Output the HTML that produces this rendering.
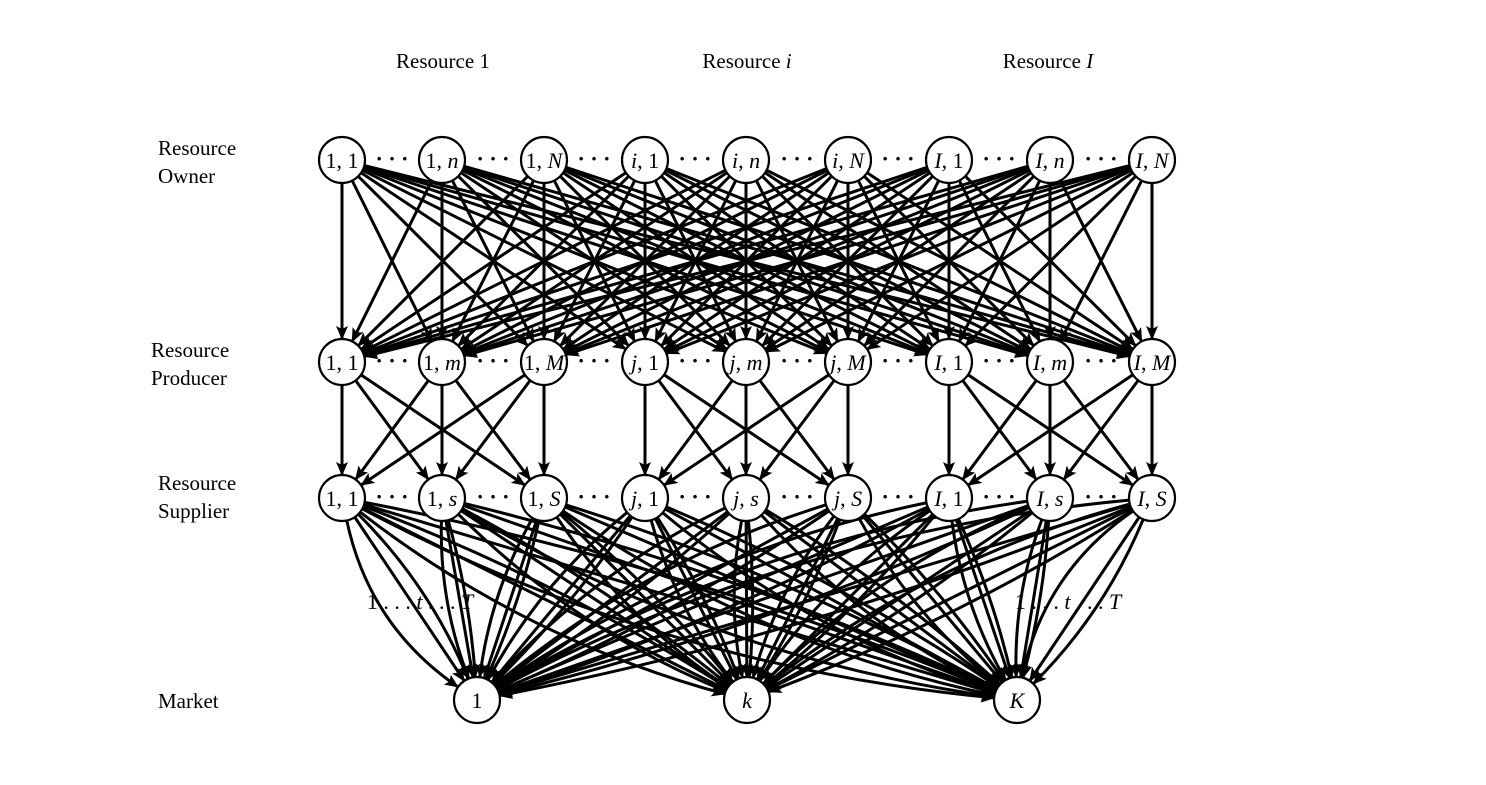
<!DOCTYPE html>
<html><head><meta charset="utf-8"><style>
html,body{margin:0;padding:0;background:#fff;}
body{width:1486px;height:785px;overflow:hidden;position:relative;}
svg{position:absolute;left:0;top:0;}
text{font-family:"Liberation Serif",serif;fill:#000;}
</style></head><body>
<svg id="s" width="1486" height="785" viewBox="0 0 1486 785" xmlns="http://www.w3.org/2000/svg">
<defs>
<marker id="a" viewBox="0 0 14 12" refX="13" refY="6" markerWidth="14" markerHeight="12" markerUnits="userSpaceOnUse" orient="auto">
<path d="M0,0 L14,6 L0,12 L3,6 Z" fill="#000"/>
</marker>
</defs>
<g id="edges" stroke="#000" stroke-width="3" fill="none"></g>
<g id="nodes" fill="#fff" stroke="#000" stroke-width="2.2">
<circle cx="342" cy="160" r="23"/><circle cx="442" cy="160" r="23"/><circle cx="544" cy="160" r="23"/>
<circle cx="645" cy="160" r="23"/><circle cx="746" cy="160" r="23"/><circle cx="848" cy="160" r="23"/>
<circle cx="949" cy="160" r="23"/><circle cx="1050" cy="160" r="23"/><circle cx="1152" cy="160" r="23"/>
<circle cx="342" cy="362" r="23"/><circle cx="442" cy="362" r="23"/><circle cx="544" cy="362" r="23"/>
<circle cx="645" cy="362" r="23"/><circle cx="746" cy="362" r="23"/><circle cx="848" cy="362" r="23"/>
<circle cx="949" cy="362" r="23"/><circle cx="1050" cy="362" r="23"/><circle cx="1152" cy="362" r="23"/>
<circle cx="342" cy="498" r="23"/><circle cx="442" cy="498" r="23"/><circle cx="544" cy="498" r="23"/>
<circle cx="645" cy="498" r="23"/><circle cx="746" cy="498" r="23"/><circle cx="848" cy="498" r="23"/>
<circle cx="949" cy="498" r="23"/><circle cx="1050" cy="498" r="23"/><circle cx="1152" cy="498" r="23"/>
<circle cx="477" cy="700" r="23"/><circle cx="747" cy="700" r="23"/><circle cx="1017" cy="700" r="23"/>
</g>
<g font-size="21" text-anchor="middle">
<text x="443" y="68">Resource 1</text>
<text x="747" y="68">Resource <tspan font-style="italic">i</tspan></text>
<text x="1048" y="68">Resource <tspan font-style="italic">I</tspan></text>
</g>
<g font-size="21">
<text x="158" y="155">Resource</text><text x="158" y="183">Owner</text>
<text x="151" y="357">Resource</text><text x="151" y="385">Producer</text>
<text x="158" y="490">Resource</text><text x="158" y="518">Supplier</text>
<text x="158" y="708">Market</text>
</g>
<g font-size="22" text-anchor="middle">
<text x="342" y="168">1, 1</text><text x="442" y="168">1, <tspan font-style="italic">n</tspan></text><text x="544" y="168">1, <tspan font-style="italic">N</tspan></text>
<text x="645" y="168"><tspan font-style="italic">i</tspan>, 1</text><text x="746" y="168"><tspan font-style="italic">i</tspan>, <tspan font-style="italic">n</tspan></text><text x="848" y="168"><tspan font-style="italic">i</tspan>, <tspan font-style="italic">N</tspan></text>
<text x="949" y="168"><tspan font-style="italic">I</tspan>, 1</text><text x="1050" y="168"><tspan font-style="italic">I</tspan>, <tspan font-style="italic">n</tspan></text><text x="1152" y="168"><tspan font-style="italic">I</tspan>, <tspan font-style="italic">N</tspan></text>
<text x="342" y="370">1, 1</text><text x="442" y="370">1, <tspan font-style="italic">m</tspan></text><text x="544" y="370">1, <tspan font-style="italic">M</tspan></text>
<text x="645" y="370"><tspan font-style="italic">j</tspan>, 1</text><text x="746" y="370"><tspan font-style="italic">j</tspan>, <tspan font-style="italic">m</tspan></text><text x="848" y="370"><tspan font-style="italic">j</tspan>, <tspan font-style="italic">M</tspan></text>
<text x="949" y="370"><tspan font-style="italic">I</tspan>, 1</text><text x="1050" y="370"><tspan font-style="italic">I</tspan>, <tspan font-style="italic">m</tspan></text><text x="1152" y="370"><tspan font-style="italic">I</tspan>, <tspan font-style="italic">M</tspan></text>
<text x="342" y="506">1, 1</text><text x="442" y="506">1, <tspan font-style="italic">s</tspan></text><text x="544" y="506">1, <tspan font-style="italic">S</tspan></text>
<text x="645" y="506"><tspan font-style="italic">j</tspan>, 1</text><text x="746" y="506"><tspan font-style="italic">j</tspan>, <tspan font-style="italic">s</tspan></text><text x="848" y="506"><tspan font-style="italic">j</tspan>, <tspan font-style="italic">S</tspan></text>
<text x="949" y="506"><tspan font-style="italic">I</tspan>, 1</text><text x="1050" y="506"><tspan font-style="italic">I</tspan>, <tspan font-style="italic">s</tspan></text><text x="1152" y="506"><tspan font-style="italic">I</tspan>, <tspan font-style="italic">S</tspan></text>
<text x="477" y="708">1</text><text x="747" y="708" font-style="italic">k</text><text x="1017" y="708" font-style="italic">K</text>
</g>
<g font-size="22" text-anchor="middle" font-weight="bold">
<text x="392" y="166">· · ·</text><text x="493" y="166">· · ·</text><text x="594" y="166">· · ·</text><text x="695" y="166">· · ·</text><text x="797" y="166">· · ·</text><text x="898" y="166">· · ·</text><text x="999" y="166">· · ·</text><text x="1101" y="166">· · ·</text>
<text x="392" y="368">· · ·</text><text x="493" y="368">· · ·</text><text x="594" y="368">· · ·</text><text x="695" y="368">· · ·</text><text x="797" y="368">· · ·</text><text x="898" y="368">· · ·</text><text x="999" y="368">· · ·</text><text x="1101" y="368">· · ·</text>
<text x="392" y="504">· · ·</text><text x="493" y="504">· · ·</text><text x="594" y="504">· · ·</text><text x="695" y="504">· · ·</text><text x="797" y="504">· · ·</text><text x="898" y="504">· · ·</text><text x="999" y="504">· · ·</text><text x="1101" y="504">· · ·</text>
</g>
<g font-size="22" text-anchor="middle">
<text x="420" y="609">1 . . . <tspan font-style="italic">t</tspan> . . . <tspan font-style="italic">T</tspan></text>
<text x="1068" y="609">1 . . . <tspan font-style="italic">t</tspan> . . . <tspan font-style="italic">T</tspan></text>
</g>
</svg>
<script>
(function(){
var X=[342,442,544,645,746,848,949,1050,1152],M=[477,747,1017],R=23;
var g=document.getElementById('edges'),d='';
function line(x1,y1,x2,y2){var dx=x2-x1,dy=y2-y1,L=Math.hypot(dx,dy),ux=dx/L,uy=dy/L;
 d+='<line x1="'+(x1+ux*R)+'" y1="'+(y1+uy*R)+'" x2="'+(x2-ux*R)+'" y2="'+(y2-uy*R)+'" marker-end="url(#a)"/>';}
function curve(x1,y1,x2,y2,k){var dx=x2-x1,dy=y2-y1,L=Math.hypot(dx,dy);
 var cx=(x1+x2)/2-dy/L*k*L,cy=(y1+y2)/2+dx/L*k*L;
 var a1=Math.atan2(cy-y1,cx-x1),a2=Math.atan2(y2-cy,x2-cx);
 var sx=x1+Math.cos(a1)*R,sy=y1+Math.sin(a1)*R,ex=x2-Math.cos(a2)*R,ey=y2-Math.sin(a2)*R;
 d+='<path d="M'+sx+','+sy+' Q'+cx+','+cy+' '+ex+','+ey+'" marker-end="url(#a)"/>';}
for(var i=0;i<9;i++)for(var j=0;j<9;j++)line(X[i],160,X[j],362);
for(var gr=0;gr<3;gr++)for(var i=0;i<3;i++)for(var j=0;j<3;j++)line(X[gr*3+i],362,X[gr*3+j],498);
for(var i=0;i<9;i++)for(var m=0;m<3;m++){
 line(X[i],498,M[m],700);
 var k=0.1; if((i==0&&m==0)||(i==8&&m==2))k=0.2;
 curve(X[i],498,M[m],700,k);curve(X[i],498,M[m],700,-k*0.5);
}
g.innerHTML=d;
})();
</script>
</body></html>
